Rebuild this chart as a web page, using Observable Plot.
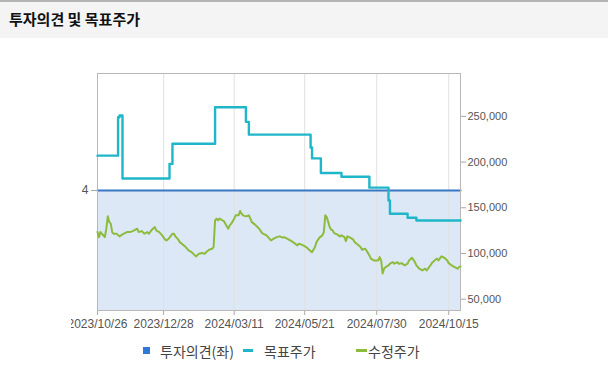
<!DOCTYPE html>
<html>
<head>
<meta charset="utf-8">
<script src="https://cdn.jsdelivr.net/npm/d3@7"></script>
<script src="https://cdn.jsdelivr.net/npm/@observablehq/plot@0.6"></script>
<style>
  html, body { margin:0; padding:0; background:#fff; }
  body { width:608px; height:381px; overflow:hidden; position:relative; font-family:"Noto Sans CJK KR","Noto Sans",sans-serif; }
  #title { position:absolute; left:0; top:0; width:608px; height:36px; background:#f4f4f4; border-top:2px solid #b4b4b4; }
  #title span { position:absolute; left:9px; top:6px; font-size:15px; font-weight:bold; color:#111; }
  #clip { position:absolute; left:71px; top:38px; width:537px; height:305px; overflow:hidden; }
  #clip svg { position:absolute; left:-71px; top:0; max-width:none !important; width:608px; height:305px; }
  .lg { position:absolute; font-size:14px; color:#444; top:341px; line-height:20px; }
  .sw { position:absolute; }
  g[aria-label="x-axis tick"] path, g[aria-label="y-axis tick"] path { stroke:#a8a8a8; }
</style>
</head>
<body>
<div id="title"><span>투자의견 및 목표주가</span></div>
<div id="clip"></div>
<div class="sw" style="left:143px;top:347px;width:7px;height:7px;background:#2f78d6"></div>
<div class="lg" style="left:160px">투자의견(좌)</div>
<div class="sw" style="left:243px;top:349px;width:10px;height:3px;background:#1fb6c9"></div>
<div class="lg" style="left:264px">목표주가</div>
<div class="sw" style="left:356px;top:349px;width:11px;height:3px;background:#8dbb3c"></div>
<div class="lg" style="left:368px">수정주가</div>
<script>
// ---- data ----
const xTickIdx = [0, 45, 93, 141, 190, 239];
const xTickLabels = ["2023/10/26", "2023/12/28", "2024/03/11", "2024/05/21", "2024/07/30", "2024/10/15"];
const priceTicks = [50000, 100000, 150000, 200000, 250000];
const opinionTicks = [4];

const opinionIdx = [0, 247];
const opinionVal = [4, 4];

const targetIdx = [0, 14, 15, 17, 49, 51, 80, 101, 103, 145, 146, 152, 166, 185, 198, 199, 211, 217, 247];
const targetVal = [207000, 249000, 251000, 182000, 198000, 220000, 260000, 244000, 230000, 216000, 204000, 188000, 184000, 172000, 158000, 143500, 139000, 136000, 136000];

const priceIdx = [0,1,2,3,5,6,7,8,9,10,11,13,15,17,20,22,24,27,28,30,32,34,35,37,39,40,42,44,46,47,49,51,52,53,55,56,58,60,62,
64,67,69,71,73,74,76,78,79,80,81,82,83,85,86,87,89,90,91,93,94,96,97,98,99,101,103,104,105,107,110,112,115,118,120,122,124,126,
127,129,132,134,136,137,140,142,144,145,146,148,149,151,153,154,155,156,157,158,159,160,161,163,165,166,168,169,170,172,174,175,177,179,180,182,183,185,186,188,
191,192,193,194,195,196,198,199,201,202,204,205,207,209,211,212,214,216,217,219,221,223,224,226,228,230,231,232,234,236,238,239,241,243,245,246,247];
const priceVal = [123400,117900,123400,121600,117900,127100,140600,134300,132600,123400,121600,121600,118700,120900,123400,123400,124500,127100,123400,124500,121600,123400,121600,126000,128900,125200,123400,119800,115100,114300,117300,121600,121600,118700,115100,112400,109900,107000,103300,
101500,96800,99700,100400,99700,101500,104100,105200,107000,136200,138100,136200,138100,136200,135400,132600,127100,130700,132600,138100,141700,141700,146400,143500,141700,140600,141700,138100,134300,131800,127100,122300,119800,114300,116200,117900,118700,117300,
117900,116200,113500,111300,108800,110700,108800,107000,104100,102600,101500,107000,112400,117300,119800,123400,141700,139800,134300,128900,126000,125200,122300,120900,118700,119800,117900,113500,118700,117300,115100,112400,109900,107000,104100,105200,103300,97900,94300,92400,
92400,96000,92400,78100,83300,85000,86900,88800,90500,88800,90500,88800,89400,86900,88800,92400,95300,90500,86900,83300,81400,83300,81400,85800,90500,93200,94300,92400,96800,95300,92400,89400,86900,85000,83300,85000,85800];

// ---- build tables ----
const opinion = opinionIdx.map((i, k) => ({i, v: opinionVal[k]}));
const target = targetIdx.map((i, k) => ({i, v: targetVal[k]}));
const price = priceIdx.map((i, k) => ({i, v: priceVal[k]}));

const W = 608, H = 305, ML = 97, MR = 148, MT = 35, MB = 33;
const xDomain = [0, 247];
const baseStyle = {fontFamily: "'Liberation Sans', Arial, sans-serif", fontSize: "11px", color: "#555", background: "transparent", overflow: "visible", maxWidth: "none"};

const opinionPlot = Plot.plot({
  width: W, height: H, marginLeft: ML, marginRight: MR, marginTop: MT, marginBottom: MB,
  style: baseStyle,
  x: {domain: xDomain},
  y: {domain: [0, 7.9], label: null},
  marks: [
    Plot.areaY(opinion, {x: "i", y: "v", fill: "#dde8f7"}),
    Plot.ruleX(xTickIdx, {stroke: "#e0e0e0"}),
    Plot.lineY(opinion, {x: "i", y: "v", stroke: "#3a77c3", strokeWidth: 2.2}),
    Plot.axisY({anchor: "left", ticks: opinionTicks, tickSize: 6, tickPadding: 3, label: null, fontSize: 12}),
    Plot.axisX({ticks: xTickIdx, tickFormat: d => xTickLabels[xTickIdx.indexOf(d)], tickSize: 5, tickPadding: 4, label: null, fontSize: 12}),
    Plot.frame({stroke: "#b8b8b8"})
  ]
});

const pricePlot = Plot.plot({
  width: W, height: H, marginLeft: ML, marginRight: MR, marginTop: MT, marginBottom: MB,
  style: baseStyle,
  x: {domain: xDomain, axis: null},
  y: {domain: [37600, 296900], label: null},
  marks: [
    Plot.axisY({anchor: "right", ticks: priceTicks, tickFormat: d3.format(","), tickSize: 5, tickPadding: 2, label: null}),
    Plot.line(target, {x: "i", y: "v", stroke: "#1fb6c9", strokeWidth: 2.4, curve: "step-after"}),
    Plot.line(price, {x: "i", y: "v", stroke: "#8dbb3c", strokeWidth: 2})
  ]
});

const clip = document.getElementById("clip");
clip.appendChild(opinionPlot);
clip.appendChild(pricePlot);
</script>
</body>
</html>
